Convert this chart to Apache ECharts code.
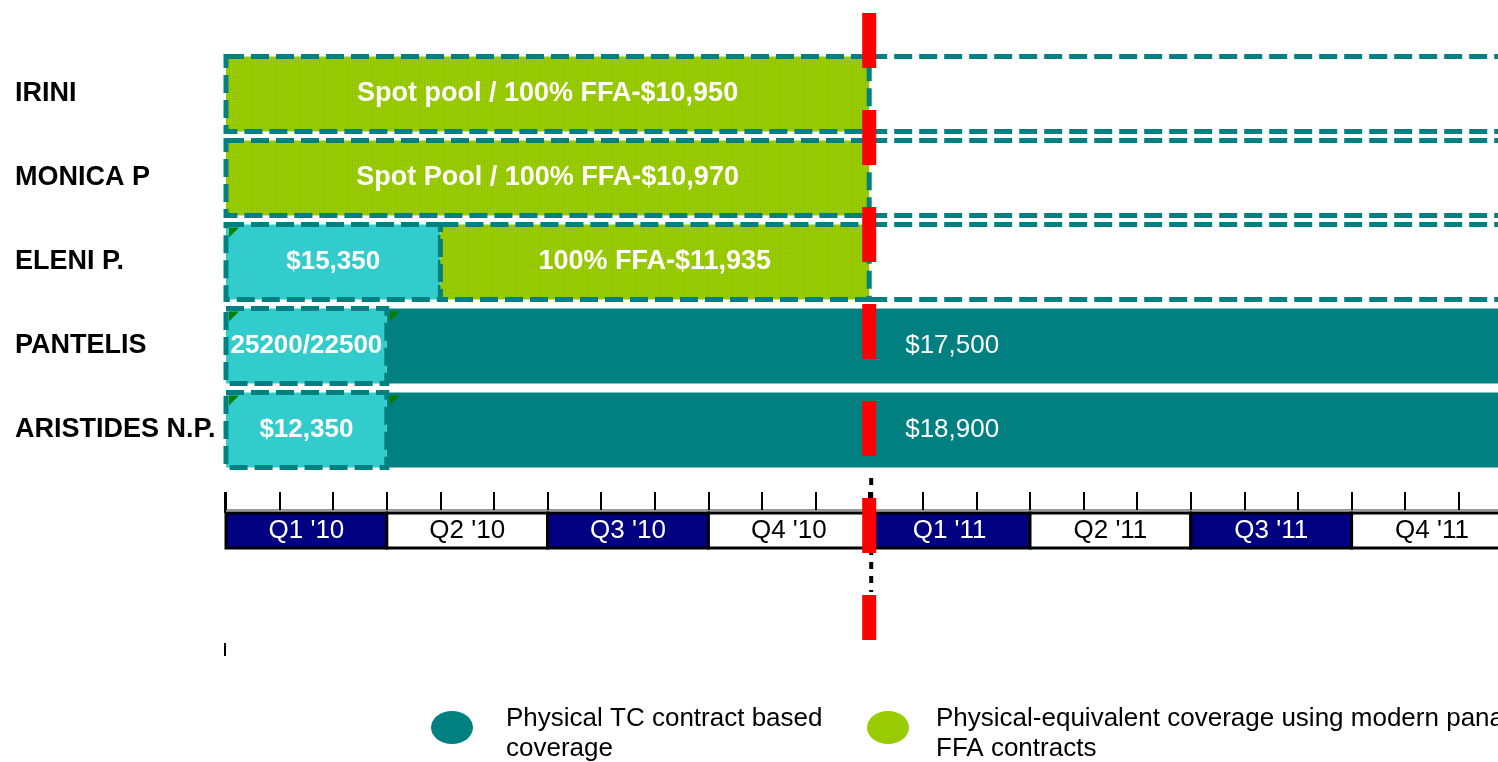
<!DOCTYPE html>
<html>
<head>
<meta charset="utf-8">
<title>Fleet employment coverage 2010-2011</title>
<script src="https://cdn.jsdelivr.net/npm/echarts@6/dist/echarts.min.js"></script>
<style>
  html, body { margin: 0; padding: 0; overflow: hidden; background: #fff; }
  #chart { width: 1600px; height: 762px; }
</style>
</head>
<body>
<div id="chart"></div>
<script>
// Vessels, top to bottom
const rows = ['IRINI', 'MONICA P', 'ELENI P.', 'PANTELIS', 'ARISTIDES N.P.'];

// Segments: [vessel, start month, end month, label]; month 0 = Jan 2010
const fixedSegments = [
  ['ELENI P.', 0, 4, '$15,350'],
  ['PANTELIS', 0, 3, '25200/22500'],
  ['ARISTIDES N.P.', 0, 3, '$12,350']
];
const ffaSegments = [
  ['IRINI', 0, 12, 'Spot pool / 100% FFA-$10,950'],
  ['MONICA P', 0, 12, 'Spot Pool / 100% FFA-$10,970'],
  ['ELENI P.', 4, 12, '100% FFA-$11,935']
];
const tcSegments = [
  ['PANTELIS', 3, 24, '$17,500'],
  ['ARISTIDES N.P.', 3, 24, '$18,900']
];

// Timeline
const quarterLabels = ["Q1 '10", "Q2 '10", "Q3 '10", "Q4 '10", "Q1 '11", "Q2 '11", "Q3 '11", "Q4 '11"];
const totalMonths = 24;
const todayMonth = 12;

const TC_NAME = 'Physical TC contract based\ncoverage';
const FFA_NAME = 'Physical-equivalent coverage using modern panamax\nFFA contracts';

const FONT = "'Liberation Sans', Arial, sans-serif";
const TEAL = '#008080';
const CYAN = '#33CCCC';
const GREEN = '#99CC00';
const NAVY = '#000080';

// fine vertical texture for the FFA fill
const tex = document.createElement('canvas');
tex.width = 3; tex.height = 2;
const tctx = tex.getContext('2d');
tctx.fillStyle = GREEN; tctx.fillRect(0, 0, 3, 2);
tctx.fillStyle = '#8CBB00'; tctx.fillRect(1, 0, 1, 1);
const greenPattern = { image: tex, repeat: 'repeat' };

function toRows(segs) {
  return segs.map(s => [rows.indexOf(s[0]), s[1], s[2]]);
}

// dashed continuation of each contract frame after its last segment
const rowEnds = rows.map(name => {
  let end = 0;
  [fixedSegments, ffaSegments, tcSegments].forEach(list =>
    list.forEach(s => { if (s[0] === name) end = Math.max(end, s[2]); }));
  return end;
});
const frameData = rows.map((name, i) => [i, rowEnds[i], totalMonths]);

const BAR_RATIO = 75 / 84;
const DASH = { stroke: TEAL, lineWidth: 5, lineDash: [18, 7], fill: null };

function barRect(api) {
  const row = api.value(0);
  const p0 = api.coord([api.value(1), row]);
  const p1 = api.coord([api.value(2), row]);
  const h = api.size([0, 1])[1] * BAR_RATIO;
  return { x: p0[0], y: p0[1] - h / 2, width: p1[0] - p0[0], height: h, cy: p0[1] };
}

function corner(r) {
  return {
    type: 'polygon',
    shape: { points: [[r.x + 3, r.y + 3], [r.x + 13, r.y + 3], [r.x + 3, r.y + 13]] },
    style: { fill: '#008000' }
  };
}

function boldLabel(text, r, size) {
  return {
    type: 'text',
    style: {
      text: text, x: r.x + r.width / 2, y: r.cy,
      textAlign: 'center', textVerticalAlign: 'middle',
      fill: '#fff', font: 'bold ' + size + 'px ' + FONT
    }
  };
}

// legend marker: ellipse in the upper part of a 42x45 box
const LEGEND_ICON = 'path://M0,45M0,16.5A21,16.5 0 1,1 42,16.5A21,16.5 0 1,1 0,16.5Z';

const option = {
  animation: false,
  grid: { left: 226, right: 87.6, top: 52, height: 420 },
  xAxis: {
    type: 'value', min: 0, max: totalMonths, interval: 1,
    offset: 38,
    axisLine: { show: true, onZero: false, lineStyle: { color: '#9a9a9a', width: 2 } },
    axisTick: { show: true, inside: true, length: 18, lineStyle: { color: '#000', width: 2 } },
    axisLabel: { show: false },
    splitLine: { show: false }
  },
  yAxis: {
    type: 'category', inverse: true, data: rows,
    axisLine: { show: false }, axisTick: { show: false }, splitLine: { show: false },
    axisLabel: {
      align: 'left', margin: 211, fontSize: 27, fontWeight: 'bold',
      color: '#000', fontFamily: FONT
    }
  },
  legend: [
    {
      data: [TC_NAME], left: 431, top: 703.5, padding: 0,
      itemWidth: 42, itemHeight: 45, selectedMode: false,
      icon: LEGEND_ICON,
      textStyle: { fontSize: 26, lineHeight: 30, color: '#000', fontFamily: FONT, padding: [0, 0, 0, 28] }
    },
    {
      data: [FFA_NAME], left: 867, top: 703.5, padding: 0,
      itemWidth: 42, itemHeight: 45, selectedMode: false,
      icon: LEGEND_ICON,
      textStyle: { fontSize: 26, lineHeight: 30, color: '#000', fontFamily: FONT, padding: [0, 0, 0, 22] }
    }
  ],
  series: [
    {
      // open-ended dashed frame to the right of each vessel's last segment
      type: 'custom', name: 'frames', z: 1,
      encode: { x: [1, 2], y: 0 },
      data: frameData,
      renderItem: (params, api) => {
        if (api.value(1) >= api.value(2)) return null;
        const r = barRect(api);
        return {
          type: 'group',
          children: [
            { type: 'line', shape: { x1: r.x, y1: r.y, x2: r.x + r.width, y2: r.y }, style: DASH },
            { type: 'line', shape: { x1: r.x, y1: r.y + r.height, x2: r.x + r.width, y2: r.y + r.height }, style: DASH }
          ]
        };
      }
    },
    {
      type: 'custom', name: TC_NAME, z: 2,
      itemStyle: { color: TEAL },
      encode: { x: [1, 2], y: 0 },
      data: toRows(tcSegments),
      renderItem: (params, api) => {
        const r = barRect(api);
        const xToday = api.coord([todayMonth, 0])[0];
        return {
          type: 'group',
          children: [
            { type: 'rect', shape: { x: r.x, y: r.y, width: r.width, height: r.height }, style: { fill: TEAL } },
            corner(r),
            {
              type: 'text',
              style: {
                text: tcSegments[params.dataIndex][3], x: xToday + 36, y: r.cy,
                textAlign: 'left', textVerticalAlign: 'middle',
                fill: '#fff', font: '26px ' + FONT
              }
            }
          ]
        };
      }
    },
    {
      type: 'custom', name: 'fixed', z: 3,
      itemStyle: { color: CYAN },
      encode: { x: [1, 2], y: 0 },
      data: toRows(fixedSegments),
      renderItem: (params, api) => {
        const r = barRect(api);
        return {
          type: 'group',
          children: [
            { type: 'rect', shape: { x: r.x, y: r.y, width: r.width, height: r.height },
              style: Object.assign({}, DASH, { fill: CYAN }) },
            corner(r),
            boldLabel(fixedSegments[params.dataIndex][3], r, 26)
          ]
        };
      }
    },
    {
      type: 'custom', name: FFA_NAME, z: 3,
      itemStyle: { color: GREEN },
      encode: { x: [1, 2], y: 0 },
      data: toRows(ffaSegments),
      renderItem: (params, api) => {
        const r = barRect(api);
        return {
          type: 'group',
          children: [
            { type: 'rect', shape: { x: r.x, y: r.y, width: r.width, height: r.height },
              style: Object.assign({}, DASH, { fill: greenPattern }) },
            boldLabel(ffaSegments[params.dataIndex][3], r, 27)
          ]
        };
      }
    },
    {
      // quarter band under the month ticks
      type: 'custom', name: 'quarters', z: 4,
      encode: { x: [0, 1] },
      data: quarterLabels.map((q, i) => [i * 3, i * 3 + 3]),
      renderItem: (params, api) => {
        const i = params.dataIndex;
        const x0 = api.coord([api.value(0), 0])[0];
        const x1 = api.coord([api.value(1), 0])[0];
        const dark = i % 2 === 0;
        const children = [
          { type: 'rect', shape: { x: x0, y: 513, width: x1 - x0, height: 35 },
            style: { fill: dark ? NAVY : '#fff', stroke: '#000', lineWidth: 3 } },
          { type: 'text', style: {
              text: quarterLabels[i], x: (x0 + x1) / 2, y: 531,
              textAlign: 'center', textVerticalAlign: 'middle',
              fill: dark ? '#fff' : '#000', font: '26px ' + FONT } }
        ];
        if (i === 0) {
          children.push({ type: 'line', shape: { x1: x0 - 1, y1: 492, x2: x0 - 1, y2: 513 },
            style: { stroke: '#000', lineWidth: 2 } });
          children.push({ type: 'line', shape: { x1: x0 - 1, y1: 643, x2: x0 - 1, y2: 656 },
            style: { stroke: '#000', lineWidth: 2 } });
        }
        return { type: 'group', children: children };
      }
    },
    {
      // current-date marker
      type: 'custom', name: 'today', z: 10,
      encode: { x: 0 },
      data: [[todayMonth]],
      renderItem: (params, api) => {
        const x = api.coord([api.value(0), 0])[0];
        return {
          type: 'group',
          children: [
            { type: 'line', shape: { x1: x + 2, y1: 478, x2: x + 2, y2: 592 },
              style: { stroke: '#000', lineWidth: 4, lineDash: [7, 7] } },
            { type: 'line', shape: { x1: x, y1: 13, x2: x, y2: 640 },
              style: { stroke: '#FF0000', lineWidth: 14, lineDash: [55, 42] } }
          ]
        };
      }
    }
  ]
};

const chart = echarts.init(document.getElementById('chart'), null, { renderer: 'canvas' });
chart.setOption(option);
</script>
</body>
</html>
